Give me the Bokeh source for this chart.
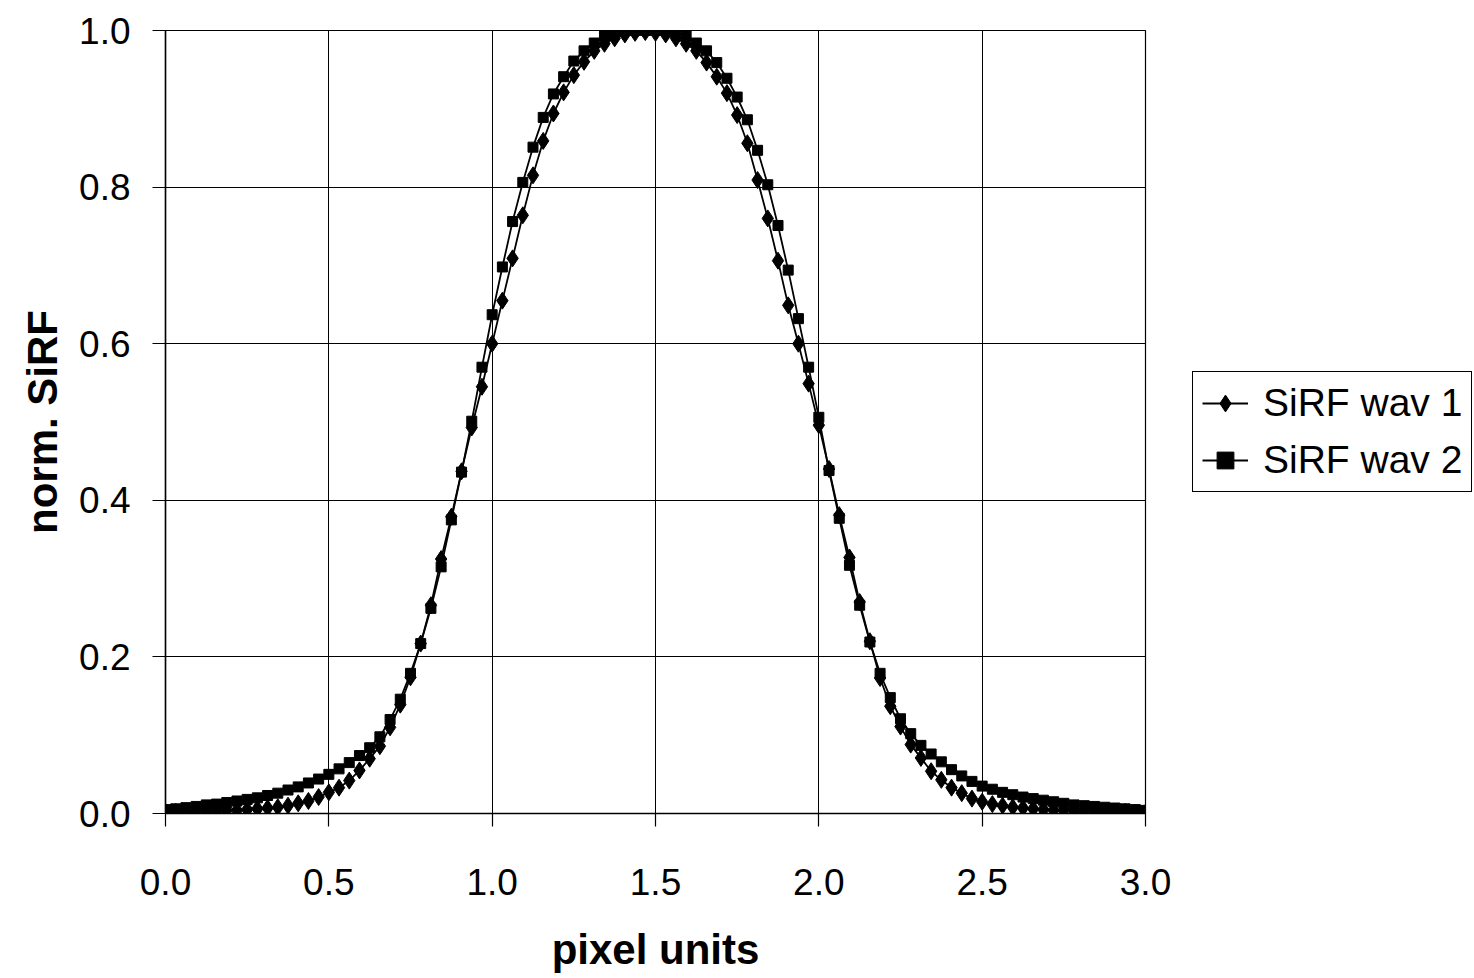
from bokeh.plotting import figure
from bokeh.layouts import row
from bokeh.models import Range1d, FixedTicker, PrintfTickFormatter, Legend, LegendItem
from bokeh.embed import file_html
from bokeh.resources import INLINE

# x positions (pixel units, sampled every 1/32 pixel)
pixel_units = [
    0.0, 0.03125, 0.0625, 0.09375, 0.125, 0.15625, 0.1875, 0.21875,
    0.25, 0.28125, 0.3125, 0.34375, 0.375, 0.40625, 0.4375, 0.46875,
    0.5, 0.53125, 0.5625, 0.59375, 0.625, 0.65625, 0.6875, 0.71875,
    0.75, 0.78125, 0.8125, 0.84375, 0.875, 0.90625, 0.9375, 0.96875,
    1.0, 1.03125, 1.0625, 1.09375, 1.125, 1.15625, 1.1875, 1.21875,
    1.25, 1.28125, 1.3125, 1.34375, 1.375, 1.40625, 1.4375, 1.46875,
    1.5, 1.53125, 1.5625, 1.59375, 1.625, 1.65625, 1.6875, 1.71875,
    1.75, 1.78125, 1.8125, 1.84375, 1.875, 1.90625, 1.9375, 1.96875,
    2.0, 2.03125, 2.0625, 2.09375, 2.125, 2.15625, 2.1875, 2.21875,
    2.25, 2.28125, 2.3125, 2.34375, 2.375, 2.40625, 2.4375, 2.46875,
    2.5, 2.53125, 2.5625, 2.59375, 2.625, 2.65625, 2.6875, 2.71875,
    2.75, 2.78125, 2.8125, 2.84375, 2.875, 2.90625, 2.9375, 2.96875,
    3.0,
]

sirf_wav1 = [
    0.002, 0.002, 0.002, 0.003, 0.003, 0.003, 0.004, 0.004,
    0.005, 0.006, 0.007, 0.008, 0.010, 0.013, 0.016, 0.021,
    0.027, 0.033, 0.042, 0.055, 0.070, 0.086, 0.110, 0.139,
    0.174, 0.217, 0.266, 0.325, 0.379, 0.437, 0.493, 0.545,
    0.600, 0.655, 0.709, 0.764, 0.815, 0.859, 0.894, 0.921,
    0.943, 0.960, 0.974, 0.983, 0.990, 0.995, 0.997, 0.998,
    0.997, 0.995, 0.990, 0.983, 0.974, 0.959, 0.941, 0.920,
    0.892, 0.856, 0.809, 0.760, 0.706, 0.649, 0.600, 0.549,
    0.496, 0.440, 0.381, 0.327, 0.270, 0.220, 0.173, 0.137,
    0.111, 0.088, 0.071, 0.054, 0.043, 0.033, 0.026, 0.019,
    0.015, 0.012, 0.010, 0.008, 0.007, 0.006, 0.005, 0.004,
    0.004, 0.003, 0.003, 0.003, 0.002, 0.002, 0.002, 0.001,
    0.001,
]

sirf_wav2 = [
    0.005, 0.006, 0.0075, 0.009, 0.011, 0.012, 0.014, 0.016,
    0.018, 0.020, 0.023, 0.026, 0.030, 0.034, 0.039, 0.044,
    0.050, 0.057, 0.065, 0.074, 0.084, 0.098, 0.120, 0.146,
    0.179, 0.217, 0.262, 0.315, 0.375, 0.436, 0.501, 0.570,
    0.637, 0.698, 0.756, 0.806, 0.851, 0.889, 0.919, 0.941,
    0.961, 0.974, 0.984, 0.993, 0.998, 1.000, 1.000, 1.000,
    1.000, 1.000, 0.998, 0.993, 0.984, 0.974, 0.959, 0.939,
    0.915, 0.886, 0.847, 0.803, 0.751, 0.694, 0.632, 0.570,
    0.506, 0.438, 0.377, 0.317, 0.266, 0.219, 0.179, 0.148,
    0.121, 0.102, 0.087, 0.076, 0.066, 0.056, 0.048, 0.041,
    0.035, 0.031, 0.027, 0.024, 0.021, 0.019, 0.017, 0.015,
    0.013, 0.011, 0.010, 0.009, 0.008, 0.007, 0.006, 0.005,
    0.004,
]

x_ticks = [0.0, 0.5, 1.0, 1.5, 2.0, 2.5, 3.0]
y_ticks = [0.0, 0.2, 0.4, 0.6, 0.8, 1.0]
series_names = ["SiRF wav 1", "SiRF wav 2"]

FONT = "Liberation Sans"

p = figure(
    width=1185, height=978,
    x_range=Range1d(0, 3), y_range=Range1d(0, 1),
    output_backend="svg", toolbar_location=None,
    min_border_left=165, min_border_right=40,
    min_border_top=30, min_border_bottom=165,
)
p.background_fill_color = "white"
p.border_fill_color = "white"
p.outline_line_color = "black"
p.outline_line_width = 1.2

# grid
for g in (p.xgrid, p.ygrid):
    g.grid_line_color = "black"
    g.grid_line_width = 1.0
p.xgrid.ticker = FixedTicker(ticks=x_ticks)
p.ygrid.ticker = FixedTicker(ticks=y_ticks)

# axes
p.xaxis.ticker = FixedTicker(ticks=x_ticks)
p.yaxis.ticker = FixedTicker(ticks=y_ticks)
for ax in (p.xaxis[0], p.yaxis[0]):
    ax.formatter = PrintfTickFormatter(format="%.1f")
    ax.axis_line_color = "black"
    ax.axis_line_width = 1.5
    ax.major_tick_line_color = "black"
    ax.major_tick_line_width = 1.2
    ax.major_tick_out = 13
    ax.major_tick_in = 0
    ax.minor_tick_line_color = None
    ax.major_label_text_font = FONT
    ax.major_label_text_font_size = "37px"
    ax.major_label_text_color = "black"
    ax.axis_label_text_font = FONT
    ax.axis_label_text_font_style = "bold"
    ax.axis_label_text_font_size = "42px"
    ax.axis_label_text_color = "black"

p.xaxis.axis_label = "pixel units"
p.yaxis.axis_label = "norm. SiRF"
p.xaxis.major_label_standoff = 42
p.xaxis.axis_label_standoff = 28
p.yaxis.major_label_standoff = 22
p.yaxis.axis_label_standoff = 10

# series
LINE_W = 1.8
p.line(pixel_units, sirf_wav1, line_color="black", line_width=LINE_W)
p.scatter(pixel_units, sirf_wav1, marker="diamond", size=17,
          fill_color="black", line_color="black")
p.line(pixel_units, sirf_wav2, line_color="black", line_width=LINE_W)
p.scatter(pixel_units, sirf_wav2, marker="square", size=10,
          fill_color="black", line_color="black")

# legend panel (separate canvas to the right of the plot)
q = figure(
    width=289, height=978,
    x_range=Range1d(10, 11), y_range=Range1d(10, 11),
    output_backend="svg", toolbar_location=None,
    x_axis_type=None, y_axis_type=None, min_border=0,
)
q.outline_line_color = None
q.xgrid.visible = False
q.ygrid.visible = False
q.background_fill_color = "white"
q.border_fill_color = "white"

l1 = q.line(pixel_units, sirf_wav1, line_color="black", line_width=LINE_W)
m1 = q.scatter(pixel_units, sirf_wav1, marker="diamond", size=12,
               fill_color="black", line_color="black")
l2 = q.line(pixel_units, sirf_wav2, line_color="black", line_width=LINE_W)
m2 = q.scatter(pixel_units, sirf_wav2, marker="square", size=8,
               fill_color="black", line_color="black")

legend = Legend(
    items=[LegendItem(label=series_names[0], renderers=[l1, m1]),
           LegendItem(label=series_names[1], renderers=[l2, m2])],
    location=(7, 321),
    label_text_font=FONT, label_text_font_size="39px", label_text_color="black",
    border_line_color="black", border_line_width=1.6, border_line_alpha=1.0,
    background_fill_color="white", background_fill_alpha=1.0,
    glyph_width=46, glyph_height=42, label_height=42,
    spacing=13, padding=9, margin=0, label_standoff=15,
)
q.add_layout(legend, "center")

layout = row(p, q)
open("out.html", "w").write(file_html(layout, INLINE))
